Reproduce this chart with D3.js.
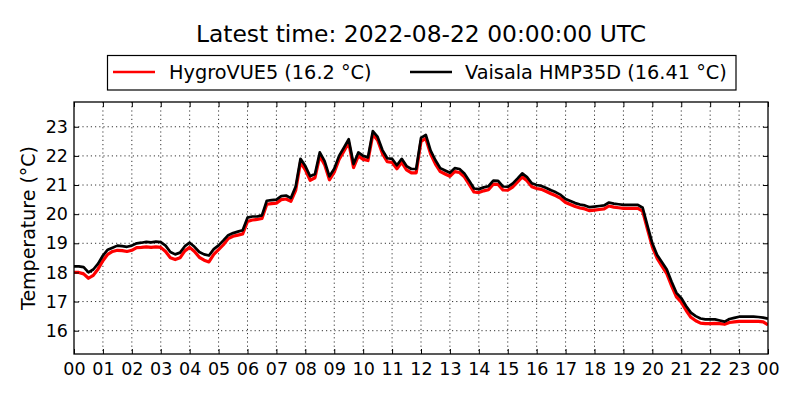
<!DOCTYPE html>
<html>
<head>
<meta charset="utf-8">
<script src="https://cdn.jsdelivr.net/npm/d3@7"></script>
<style>
  html, body { margin: 0; padding: 0; background: #fff; }
  svg { display: block; font-family: "DejaVu Sans", sans-serif; }
</style>
</head>
<body>
<svg id="chart" width="800" height="400"></svg>
<script>
// ---- Data (sampled every 10 minutes, 2022-08-21 00:00 -> 2022-08-22 00:00 UTC) ----
const sampleStepMinutes = 10;
const titleText = "Latest time: 2022-08-22 00:00:00 UTC";
const seriesNames = ["HygroVUE5 (16.2 °C)", "Vaisala HMP35D (16.41 °C)"];
const seriesColors = ["#ff0000", "#000000"];
const xTickLabels = ["00","01","02","03","04","05","06","07","08","09","10","11","12",
                     "13","14","15","16","17","18","19","20","21","22","23","00"];
const yTickValues = [16, 17, 18, 19, 20, 21, 22, 23];

const hygroVUE5 = [
  18.00,18.00,17.95,17.80,17.90,18.12, 18.40,18.62,18.72,18.76,18.75,18.72,
  18.76,18.85,18.86,18.88,18.86,18.88, 18.86,18.72,18.50,18.44,18.50,18.74,
  18.86,18.72,18.52,18.42,18.36,18.62, 18.78,18.95,19.16,19.24,19.28,19.32,
  19.75,19.80,19.82,19.85,20.34,20.36, 20.38,20.50,20.52,20.44,20.82,21.78,
  21.52,21.16,21.25,22.00,21.70,21.18, 21.44,21.88,22.16,22.45,21.60,22.00,
  21.88,21.84,22.74,22.54,22.08,21.80, 21.78,21.56,21.78,21.52,21.42,21.42,
  22.50,22.60,22.06,21.72,21.46,21.38, 21.30,21.46,21.43,21.28,21.02,20.76,
  20.74,20.80,20.84,21.03,21.02,20.83, 20.82,20.93,21.10,21.28,21.15,20.94,
  20.88,20.85,20.78,20.70,20.63,20.54, 20.40,20.33,20.26,20.21,20.18,20.12,
  20.14,20.16,20.18,20.28,20.24,20.22, 20.20,20.20,20.20,20.20,20.10,19.48,
  18.88,18.48,18.22,17.96,17.54,17.16, 16.98,16.70,16.46,16.34,16.26,16.24,
  16.24,16.25,16.24,16.22,16.28,16.30, 16.32,16.32,16.32,16.32,16.32,16.30,
  16.20
];

const vaisalaHMP35D = [
  18.21,18.21,18.18,18.00,18.10,18.30, 18.58,18.78,18.85,18.92,18.90,18.88,
  18.92,19.00,19.02,19.05,19.03,19.06, 19.04,18.92,18.70,18.62,18.68,18.90,
  19.02,18.88,18.70,18.62,18.58,18.80, 18.93,19.10,19.28,19.35,19.40,19.45,
  19.88,19.92,19.92,19.96,20.46,20.48, 20.50,20.62,20.64,20.55,20.95,21.90,
  21.65,21.30,21.38,22.12,21.82,21.30, 21.56,22.00,22.28,22.57,21.72,22.12,
  22.00,21.95,22.85,22.65,22.20,21.92, 21.90,21.68,21.90,21.65,21.55,21.55,
  22.62,22.72,22.18,21.85,21.58,21.50, 21.42,21.58,21.55,21.40,21.15,20.88,
  20.86,20.92,20.96,21.15,21.14,20.95, 20.94,21.05,21.22,21.40,21.27,21.06,
  21.00,20.97,20.90,20.82,20.75,20.66, 20.52,20.45,20.38,20.33,20.30,20.24,
  20.26,20.28,20.30,20.40,20.36,20.34, 20.32,20.32,20.32,20.32,20.22,19.60,
  19.00,18.60,18.35,18.10,17.68,17.30, 17.12,16.85,16.62,16.50,16.42,16.39,
  16.39,16.39,16.35,16.31,16.40,16.44, 16.48,16.48,16.48,16.48,16.47,16.45,
  16.41
];

// ---- Layout ----
const plot = { left: 74, right: 768, top: 102, bottom: 354 };
const svg = d3.select("#chart");

const allVals = hygroVUE5.concat(vaisalaHMP35D);
const yMin = d3.min(allVals) - 1, yMax = d3.max(allVals) + 1;

const x = d3.scaleLinear().domain([0, 24 * 60]).range([plot.left, plot.right]);
const y = d3.scaleLinear().domain([yMin, yMax]).range([plot.bottom, plot.top]);

svg.append("defs").append("clipPath").attr("id", "clip")
  .append("rect").attr("x", plot.left).attr("y", plot.top)
  .attr("width", plot.right - plot.left).attr("height", plot.bottom - plot.top);

const xTickMinutes = xTickLabels.map((_, i) => i * 60);

// grid
const grid = svg.append("g").attr("class", "grid");
grid.selectAll("line.gx").data(xTickMinutes.slice(1, -1)).join("line")
  .attr("x1", d => x(d)).attr("x2", d => x(d))
  .attr("y1", plot.top).attr("y2", plot.bottom)
  .attr("stroke", "#000").attr("stroke-width", 0.8).attr("stroke-dasharray", "1.2,3");
grid.selectAll("line.gy").data(yTickValues).join("line")
  .attr("x1", plot.left).attr("x2", plot.right)
  .attr("y1", d => y(d)).attr("y2", d => y(d))
  .attr("stroke", "#000").attr("stroke-width", 0.8).attr("stroke-dasharray", "1.2,3");

// lines
const line = d3.line()
  .x((d, i) => x(i * sampleStepMinutes))
  .y(d => y(d));
const lines = svg.append("g").attr("clip-path", "url(#clip)");
lines.append("path").datum(hygroVUE5)
  .attr("fill", "none").attr("stroke", seriesColors[0]).attr("stroke-width", 3.2)
  .attr("stroke-linejoin", "round").attr("d", line);
lines.append("path").datum(vaisalaHMP35D)
  .attr("fill", "none").attr("stroke", seriesColors[1]).attr("stroke-width", 2.7)
  .attr("stroke-linejoin", "round").attr("d", line);

// axes (ticks inward on all sides)
const tickLen = 5;
const xAxisB = d3.axisBottom(x).tickValues(xTickMinutes)
  .tickFormat((d, i) => xTickLabels[i]).tickSizeInner(-tickLen).tickSizeOuter(0).tickPadding(8.5);
const xAxisT = d3.axisTop(x).tickValues(xTickMinutes).tickFormat("").tickSizeInner(-tickLen).tickSizeOuter(0);
const yAxisL = d3.axisLeft(y).tickValues(yTickValues).tickFormat(d3.format("d"))
  .tickSizeInner(-tickLen).tickSizeOuter(0).tickPadding(6);
const yAxisR = d3.axisRight(y).tickValues(yTickValues).tickFormat("").tickSizeInner(-tickLen).tickSizeOuter(0);

function styleAxis(g) {
  g.select(".domain").remove();
  g.selectAll(".tick line").attr("stroke", "#000").attr("stroke-width", 1);
  g.selectAll(".tick text").attr("fill", "#000").attr("font-size", "17.5px")
    .attr("font-family", "DejaVu Sans, sans-serif");
}
svg.append("g").attr("transform", `translate(0,${plot.bottom})`).call(xAxisB).call(styleAxis);
svg.append("g").attr("transform", `translate(0,${plot.top})`).call(xAxisT).call(styleAxis);
svg.append("g").attr("transform", `translate(${plot.left},0)`).call(yAxisL).call(styleAxis);
svg.append("g").attr("transform", `translate(${plot.right},0)`).call(yAxisR).call(styleAxis);

// frame
svg.append("rect").attr("x", plot.left).attr("y", plot.top)
  .attr("width", plot.right - plot.left).attr("height", plot.bottom - plot.top)
  .attr("fill", "none").attr("stroke", "#000").attr("stroke-width", 1.3);

// y label
svg.append("text")
  .attr("transform", `translate(34.8,${(plot.top + plot.bottom) / 2}) rotate(-90)`)
  .attr("text-anchor", "middle").attr("font-size", "19px").attr("fill", "#000")
  .text("Temperature (°C)");

// title
svg.append("text")
  .attr("x", (plot.left + plot.right) / 2).attr("y", 42)
  .attr("text-anchor", "middle").attr("font-size", "23.4px").attr("fill", "#000")
  .text(titleText);

// legend
const legend = svg.append("g");
legend.append("rect").attr("x", 107.5).attr("y", 55.5).attr("width", 628.5).attr("height", 34.5)
  .attr("fill", "#fff").attr("stroke", "#000").attr("stroke-width", 1.2);
const legendItems = [
  { x0: 113, textX: 169 },
  { x0: 410, textX: 465 }
];
legendItems.forEach((it, i) => {
  legend.append("line").attr("x1", it.x0).attr("x2", it.x0 + 42)
    .attr("y1", 72).attr("y2", 72)
    .attr("stroke", seriesColors[i]).attr("stroke-width", 2.7);
  legend.append("text").attr("x", it.textX).attr("y", 78.5)
    .attr("font-size", "19.3px").attr("fill", "#000").text(seriesNames[i]);
});
</script>
</body>
</html>
